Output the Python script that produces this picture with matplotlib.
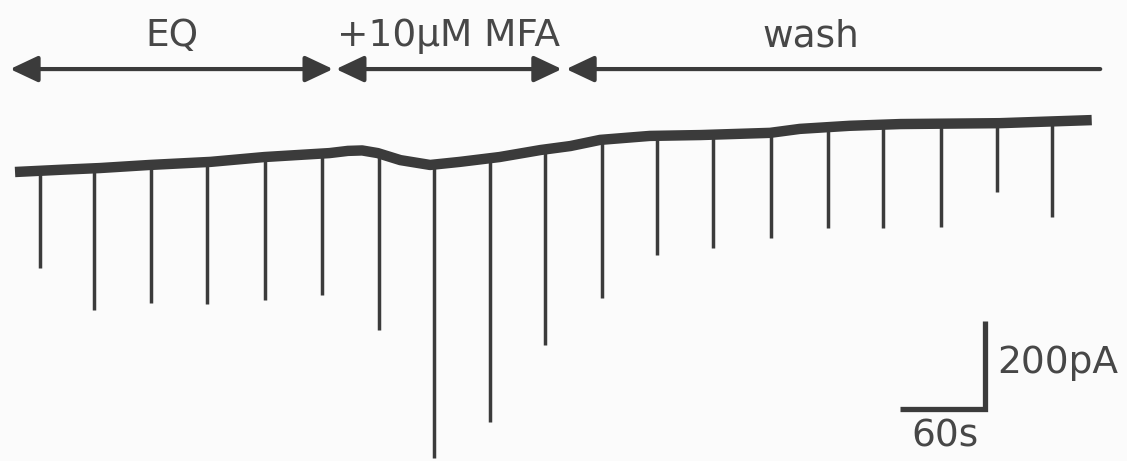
import matplotlib
matplotlib.use("Agg")
from matplotlib import pyplot as plt

# Baseline holding current (time in s, current in pA)
base_t = [0, 32, 60, 95, 138, 176, 222, 235, 245, 256, 272, 293, 314, 342, 371,
          392, 413, 448, 484, 533, 554, 589, 625, 695, 760]
base_i = [0, 5, 9, 16, 23, 34, 43, 48, 49, 43, 27, 16, 23, 34, 50,
          59, 73, 82, 84, 89, 98, 105, 109, 111, 118]

# Evoked inward currents: time, baseline level, peak
event_t = [17.6, 55.8, 96, 135.5, 176.5, 216.7, 257, 295.8, 335, 374,
           414, 453, 493, 533.6, 574, 613, 653.6, 693, 732]
event_base = [4, 9, 16, 23, 34, 43, 43, 16, 27, 50,
              73, 82, 84, 89, 105, 109, 111, 111, 116]
event_peak = [-218, -314, -298, -300, -291, -280, -359, -650, -568, -393,
              -286, -189, -173, -150, -127, -127, -125, -45, -102]

# Protocol periods
periods = ['EQ', '+10μM MFA', 'wash']
period_start = [-3.5, 226.5, 389]
period_end = [224.5, 386, 766]

trace_color = '#3b3b3b'
text_color = '#474747'

fig = plt.figure(figsize=(11.27, 4.61), dpi=100, facecolor='#fbfbfb')
ax = fig.add_axes([0, 0, 1, 1])
ax.set_facecolor('#fbfbfb')
ax.set_xlim(-10.6, 784.9)
ax.set_ylim(-657, 391)
ax.axis('off')

# trace
ax.plot(base_t, base_i, color=trace_color, lw=7.5, solid_capstyle='butt',
        solid_joinstyle='round')
ax.vlines(event_t, event_peak, event_base, color=trace_color, lw=2.5)

# period arrows
arrow_y = 234
for i, (name, t0, t1) in enumerate(zip(periods, period_start, period_end)):
    style = '<|-|>' if i < 2 else '<|-'
    ax.annotate('', xy=(t1, arrow_y), xytext=(t0, arrow_y),
                arrowprops=dict(arrowstyle=style + ',head_length=1.7,head_width=0.8',
                                color=trace_color, lw=3, shrinkA=0, shrinkB=0,
                                mutation_scale=10))
    ax.text((t0 + t1) / 2 if i < 2 else 562, 286, name, ha='center',
            va='baseline', fontsize=27, color=text_color,
            family='DejaVu Sans')

# scale bar: 60 s, 200 pA
ax.plot([624.7, 684.7, 684.7], [-538.6, -538.6, -338.6], color=trace_color,
        lw=3.8, solid_capstyle='butt', solid_joinstyle='miter')
ax.text(693, -456.8, '200pA', ha='left', va='baseline', fontsize=27,
        color=text_color)
ax.text(656.5, -625, '60s', ha='center', va='baseline', fontsize=27,
        color=text_color)

plt.savefig('out.png', dpi=100, facecolor=fig.get_facecolor())
